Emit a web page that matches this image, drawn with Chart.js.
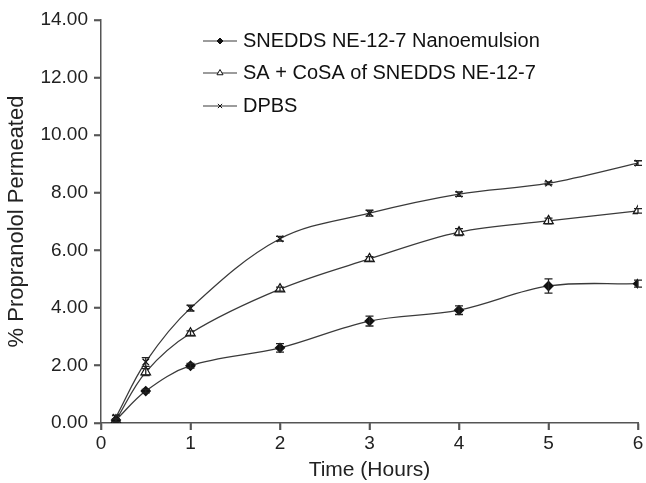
<!DOCTYPE html>
<html><head><meta charset="utf-8">
<script src="https://cdn.jsdelivr.net/npm/chart.js@4/dist/chart.umd.min.js"></script>
<style>html,body{margin:0;padding:0;background:#fff}#wrap{width:646px;height:483px}</style>
</head><body><div id="wrap"><canvas id="c" width="646" height="483"></canvas></div>
<script>
const times = [0.167, 0.5, 1, 2, 3, 4, 5, 6];
const seriesLabels = ["SNEDDS NE-12-7 Nanoemulsion", "SA + CoSA of SNEDDS NE-12-7", "DPBS"];
const snedds = [0.10, 1.11, 1.99, 2.61, 3.54, 3.92, 4.76, 4.84];
const sneddsErr = [0.05, 0.06, 0.08, 0.15, 0.17, 0.15, 0.25, 0.12];
const saCosa = [0.10, 1.77, 3.12, 4.65, 5.70, 6.63, 7.02, 7.37];
const saCosaErr = [0.05, 0.12, 0.08, 0.07, 0.08, 0.12, 0.10, 0.08];
const dpbs = [0.20, 2.12, 3.99, 6.40, 7.29, 7.95, 8.33, 9.03];
const dpbsErr = [0.06, 0.15, 0.10, 0.08, 0.10, 0.08, 0.05, 0.08];
const yTicks = [0, 2, 4, 6, 8, 10, 12, 14];
const xTicks = [0, 1, 2, 3, 4, 5, 6];

const lineColor = '#3a3a3a';
const FONT = '"Liberation Sans", Arial, sans-serif';

function pts(ys){ return times.map((t,i)=>({x:t,y:ys[i]})); }
const errs = [sneddsErr, saCosaErr, dpbsErr];

const tickMarks = {
  id:'tickMarks',
  afterDraw(chart){
    const ctx = chart.ctx, xs = chart.scales.x, ys = chart.scales.y;
    const left = chart.chartArea.left, bottom = chart.chartArea.bottom;
    ctx.save();
    ctx.strokeStyle = '#555'; ctx.lineWidth = 1.6;
    ctx.beginPath();
    xTicks.forEach(v=>{ const x = Math.round(xs.getPixelForValue(v)); ctx.moveTo(x, bottom); ctx.lineTo(x, bottom+7); });
    yTicks.forEach(v=>{ const y = Math.round(ys.getPixelForValue(v)); ctx.moveTo(left-7, y); ctx.lineTo(left, y); });
    ctx.stroke();
    ctx.restore();
  }
};

const errorBars = {
  id:'errorBars',
  afterDatasetsDraw(chart){
    const ctx = chart.ctx, ys = chart.scales.y, xs = chart.scales.x;
    ctx.save();
    ctx.strokeStyle = '#222'; ctx.lineWidth = 1.3;
    chart.data.datasets.forEach((ds, di)=>{
      ds.data.forEach((p, i)=>{
        const e = errs[di][i];
        const x = xs.getPixelForValue(p.x);
        const y1 = ys.getPixelForValue(p.y + e), y2 = ys.getPixelForValue(p.y - e);
        ctx.beginPath();
        ctx.moveTo(x, y1); ctx.lineTo(x, y2);
        ctx.moveTo(x-4, y1); ctx.lineTo(x+4, y1);
        ctx.moveTo(x-4, y2); ctx.lineTo(x+4, y2);
        ctx.stroke();
      });
    });
    ctx.restore();
  }
};

const customLegend = {
  id:'customLegend',
  afterDraw(chart){
    const ctx = chart.ctx;
    ctx.save();
    const rowsY = [41, 73, 106];
    chart.data.datasets.forEach((ds, i)=>{
      const y = rowsY[i];
      ctx.strokeStyle = lineColor; ctx.lineWidth = 1.2;
      ctx.beginPath(); ctx.moveTo(203, y); ctx.lineTo(237, y); ctx.stroke();
      ctx.fillStyle = ds.pointBackgroundColor; ctx.strokeStyle = '#111'; ctx.lineWidth = 1;
      Chart.helpers.drawPoint(ctx, {pointStyle: ds.pointStyle, radius: i===1?3.5:3, borderWidth:1}, 220, y);
      ctx.fillStyle = '#111';
      ctx.font = '20px ' + FONT;
      ctx.textBaseline = 'middle'; ctx.textAlign = 'left';
      ctx.fillText(ds.label, 243, y);
    });
    ctx.restore();
  }
};

new Chart(document.getElementById('c'), {
  type:'line',
  data:{ datasets:[
    {label:seriesLabels[0], data:pts(snedds), pointStyle:'rectRot', pointRadius:4.5, pointBackgroundColor:'#111', pointBorderColor:'#111', borderColor:lineColor, borderWidth:1.3, tension:0.35, fill:false},
    {label:seriesLabels[1], data:pts(saCosa), pointStyle:'triangle', pointRadius:5.5, pointBackgroundColor:'#fff', pointBorderColor:'#111', pointBorderWidth:1.2, borderColor:lineColor, borderWidth:1.3, tension:0.35, fill:false},
    {label:seriesLabels[2], data:pts(dpbs), pointStyle:'crossRot', pointRadius:4.5, pointBackgroundColor:'#111', pointBorderColor:'#111', pointBorderWidth:1.3, borderColor:lineColor, borderWidth:1.3, tension:0.35, fill:false}
  ]},
  options:{
    responsive:false, animation:false, devicePixelRatio:1,
    layout:{padding:{top:20, right:8, left:0, bottom:0}},
    plugins:{legend:{display:false}, tooltip:{enabled:false}},
    scales:{
      x:{type:'linear', min:0, max:6,
        afterBuildTicks(s){ s.ticks = xTicks.map(v=>({value:v})); },
        afterFit(s){ s.height = 60; },
        grid:{display:true, drawOnChartArea:false, drawTicks:true, tickLength:7, tickColor:'#555', tickWidth:1.6},
        border:{display:true, color:'#555', width:1.5},
        ticks:{color:'#222', font:{size:19, family:FONT}, padding:2, maxRotation:0},
        title:{display:true, text:'Time (Hours)', color:'#222', font:{size:21, family:FONT}, padding:{top:0, bottom:0}}
      },
      y:{type:'linear', min:0, max:14,
        afterBuildTicks(s){ s.ticks = yTicks.map(v=>({value:v})); },
        afterFit(s){ s.width = 101; },
        grid:{display:true, drawOnChartArea:false, drawTicks:true, tickLength:7, tickColor:'#555', tickWidth:1.6},
        border:{display:true, color:'#555', width:1.5},
        ticks:{color:'#222', font:{size:19, family:FONT}, padding:6, callback:v=>Number(v).toFixed(2)},
        title:{display:true, text:'% Propranolol Permeated', color:'#222', font:{size:22, family:FONT}, padding:{top:4, bottom:0}}
      }
    }
  },
  plugins:[errorBars, customLegend, tickMarks]
});
</script></body></html>
